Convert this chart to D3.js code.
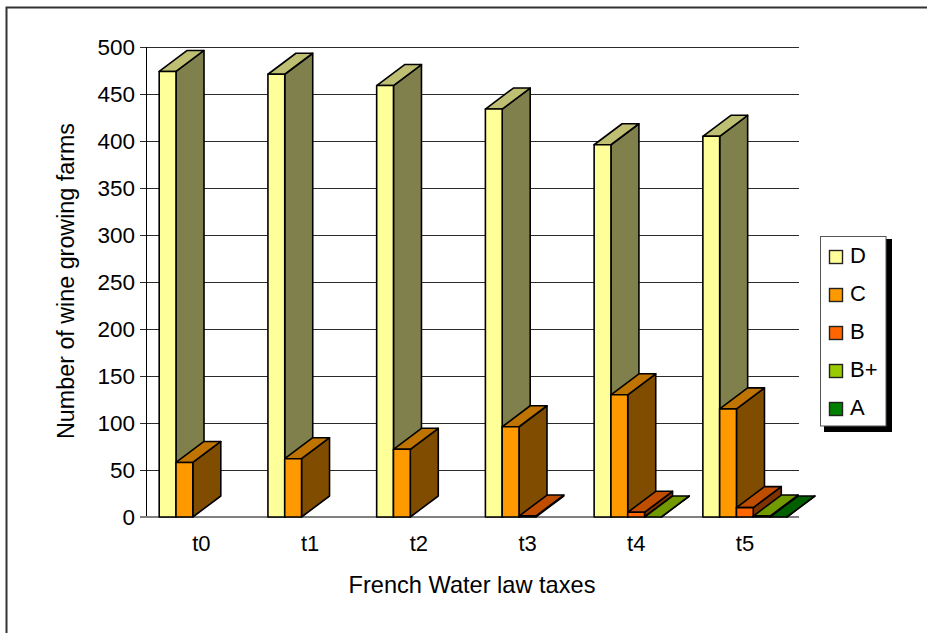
<!DOCTYPE html>
<html>
<head>
<meta charset="utf-8">
<script src="https://cdn.jsdelivr.net/npm/d3@7"></script>
<style>
  html, body { margin: 0; background: #fff; overflow: hidden; }
  svg { display: block; }
  text { font-family: "Liberation Sans", Arial, sans-serif; fill: #000; }
</style>
</head>
<body>
<div id="chart"></div>
<script>
const categories = ["t0", "t1", "t2", "t3", "t4", "t5"];
const seriesNames = ["D", "C", "B", "B+", "A"];
const valuesD = [474, 471, 459, 434, 396, 405];
const valuesC = [58, 62, 72, 96, 130, 115];
const valuesB = [null, null, null, 1, 5, 10];
const valuesBplus = [null, null, null, null, 0, 1];
const valuesA = [null, null, null, null, null, 0];
const yTicks = [0, 50, 100, 150, 200, 250, 300, 350, 400, 450, 500];

const seriesValues = [valuesD, valuesC, valuesB, valuesBplus, valuesA];
const frontColors = ["#ffff99", "#ff9900", "#ff6600", "#99cc00", "#008000"];

const width = 927;
const height = 633;
const depthX = 28;
const depthY = 21;

const svg = d3
  .select("#chart")
  .append("svg")
  .attr("width", width)
  .attr("height", height);

// outer frame, only the top and left edges fall inside the picture
svg
  .append("path")
  .attr("d", `M6.5,${height}V7.5H${width}`)
  .attr("fill", "none")
  .attr("stroke", "#333")
  .attr("stroke-width", 2);

const xScale = d3.scaleBand().domain(categories).range([148, 800.4]);
const seriesScale = d3
  .scaleBand()
  .domain(seriesNames)
  .range([11.2, 95.2]);
const yScale = d3.scaleLinear().domain([0, 500]).range([517, 47]);

// gridlines and axis
const yAxis = d3
  .axisLeft(yScale)
  .tickValues(yTicks)
  .tickSize(0)
  .tickPadding(11);
const yG = svg
  .append("g")
  .attr("transform", "translate(146,0)")
  .call(yAxis);
yG.select(".domain").remove();
yG.selectAll("text").attr("font-size", 22.5).style("font-family", null);

svg
  .append("g")
  .selectAll("line")
  .data(yTicks.filter((d) => d > 0))
  .enter()
  .append("line")
  .attr("x1", 140)
  .attr("x2", 799)
  .attr("y1", (d) => Math.round(yScale(d)) + 0.5)
  .attr("y2", (d) => Math.round(yScale(d)) + 0.5)
  .attr("stroke", "#2b2b2b");

svg
  .append("line")
  .attr("x1", 146.5)
  .attr("x2", 146.5)
  .attr("y1", 47)
  .attr("y2", 517)
  .attr("stroke", "#000");

svg
  .append("line")
  .attr("x1", 140)
  .attr("x2", 799)
  .attr("y1", yScale(0))
  .attr("y2", yScale(0))
  .attr("stroke", "#808080")
  .attr("stroke-width", 2);

// bars, back faces first so the next series covers them
const points = (arr) => arr.map((p) => p.join(",")).join(" ");
const barLayer = svg
  .append("g")
  .attr("stroke", "#000")
  .attr("stroke-width", 1.6)
  .attr("stroke-linejoin", "round");

categories.forEach((cat, i) => {
  seriesNames.forEach((name, s) => {
    const v = seriesValues[s][i];
    if (v === null) return;
    const x0 = xScale(cat) + seriesScale(name);
    const x1 = x0 + seriesScale.bandwidth();
    const y0 = yScale(0);
    const y1 = yScale(v);
    const front = d3.color(frontColors[s]);
    const topColor = d3.rgb(front.r * 0.75, front.g * 0.75, front.b * 0.75);
    const sideColor = d3.rgb(front.r * 0.5, front.g * 0.5, front.b * 0.5);

    barLayer
      .append("polygon")
      .attr("points", points([[x1, y0], [x1 + depthX, y0 - depthY], [x1 + depthX, y1 - depthY], [x1, y1]]))
      .attr("fill", sideColor);
    barLayer
      .append("polygon")
      .attr("points", points([[x0, y1], [x0 + depthX, y1 - depthY], [x1 + depthX, y1 - depthY], [x1, y1]]))
      .attr("fill", topColor);
    if (v > 0) {
      barLayer
        .append("rect")
        .attr("x", x0)
        .attr("y", y1)
        .attr("width", x1 - x0)
        .attr("height", y0 - y1)
        .attr("fill", frontColors[s]);
    }
  });
});

// category labels
svg
  .append("g")
  .selectAll("text")
  .data(categories)
  .enter()
  .append("text")
  .attr("x", (d) => xScale(d) + xScale.bandwidth() / 2 - 1)
  .attr("y", 551)
  .attr("text-anchor", "middle")
  .attr("font-size", 22)
  .text((d) => d);

svg
  .append("text")
  .attr("x", 472)
  .attr("y", 593)
  .attr("text-anchor", "middle")
  .attr("font-size", 23.6)
  .text("French Water law taxes");

svg
  .append("text")
  .attr("transform", "translate(74,281) rotate(-90)")
  .attr("text-anchor", "middle")
  .attr("font-size", 23.3)
  .text("Number of wine growing farms");

// legend
const legend = svg.append("g");
legend
  .append("rect")
  .attr("x", 824)
  .attr("y", 239)
  .attr("width", 68)
  .attr("height", 193)
  .attr("fill", "#000");
legend
  .append("rect")
  .attr("x", 820.5)
  .attr("y", 236.5)
  .attr("width", 65.5)
  .attr("height", 189.5)
  .attr("fill", "#fff")
  .attr("stroke", "#555");

const legendY = d3.scalePoint().domain(seriesNames).range([257, 409]);
seriesNames.forEach((name, s) => {
  legend
    .append("rect")
    .attr("x", 829.5)
    .attr("y", legendY(name) - 6.5)
    .attr("width", 13)
    .attr("height", 13)
    .attr("fill", frontColors[s])
    .attr("stroke", "#222")
    .attr("stroke-width", 1.4);
  legend
    .append("text")
    .attr("x", 850)
    .attr("y", legendY(name) + 6)
    .attr("font-size", 22)
    .text(name);
});
</script>
</body>
</html>
